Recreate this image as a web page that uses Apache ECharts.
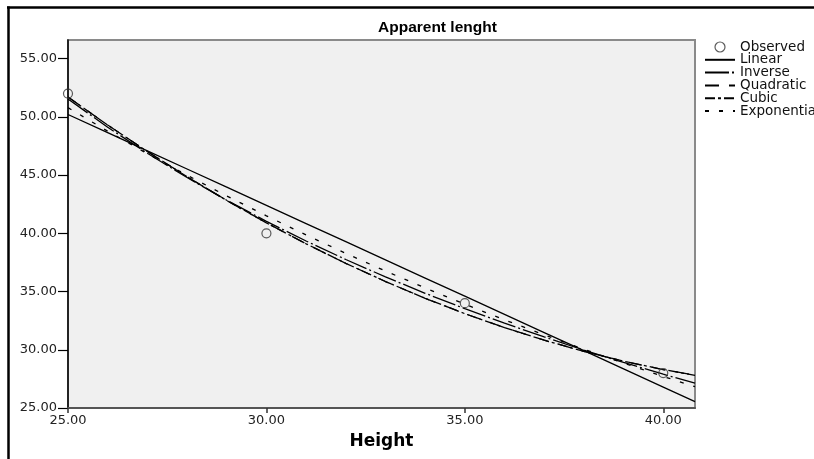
<!DOCTYPE html>
<html><head><meta charset="utf-8">
<script src="https://cdn.jsdelivr.net/npm/echarts@6/dist/echarts.min.js"></script>
<style>html,body{margin:0;padding:0;background:#fff}#c{width:814px;height:459px}</style>
</head><body><div id="c"></div>
<script>
// Observed points
const heights = [25, 30, 35, 40];
const observed = [52, 40, 34, 28];
// Fitted curves read along the Height axis
const curveX = [25, 26, 27, 28, 29, 30, 31, 32, 33, 34, 35, 36, 37, 38, 39, 40, 40.8];
const linear = [50.20, 48.64, 47.08, 45.52, 43.96, 42.40, 40.84, 39.28, 37.72, 36.16, 34.60, 33.04, 31.48, 29.92, 28.36, 26.80, 25.55];
const inverse = [51.54, 49.11, 46.87, 44.79, 42.84, 41.03, 39.34, 37.75, 36.26, 34.85, 33.53, 32.28, 31.10, 29.97, 28.91, 27.90, 27.13];
const quadratic = [51.70, 49.30, 47.02, 44.86, 42.82, 40.90, 39.10, 37.42, 35.86, 34.42, 33.10, 31.90, 30.82, 29.86, 29.02, 28.30, 27.81];
const cubic = [51.70, 49.30, 47.02, 44.86, 42.82, 40.90, 39.10, 37.42, 35.86, 34.42, 33.10, 31.90, 30.82, 29.86, 29.02, 28.30, 27.81];
const exponential = [50.79, 48.77, 46.84, 44.99, 43.21, 41.50, 39.86, 38.28, 36.76, 35.31, 33.91, 32.57, 31.28, 30.04, 28.85, 27.71, 26.83];
const legendNames = ['Observed', 'Linear', 'Inverse', 'Quadratic', 'Cubic', 'Exponential'];
const titleText = 'Apparent lenght';
const xName = 'Height';
const xMin = 25, xMax = 40.8, yMin = 25, yMax = 56.6, tickStep = 5;

const zip = (xs, ys) => xs.map((x, i) => [x, ys[i]]);
const FONT = 'DejaVu Sans';
const fmt = v => (Math.abs(v / tickStep - Math.round(v / tickStep)) < 1e-9) ? v.toFixed(2) : '';

function lineSeries(name, ys, type) {
  return {
    name, type: 'line', data: zip(curveX, ys), symbol: 'none', showSymbol: false,
    lineStyle: { color: '#000', width: 1.3, type },
    itemStyle: { color: '#000' }, silent: true, z: 3
  };
}
const hiddenDot = { color: 'rgba(0,0,0,0)', borderWidth: 0, opacity: 0 };

const chart = echarts.init(document.getElementById('c'), null, { renderer: 'canvas' });
chart.setOption({
  animation: false,
  backgroundColor: '#fff',
  title: {
    text: titleText, left: 378, top: 20, padding: 0,
    textStyle: { fontFamily: 'Liberation Sans', fontWeight: 'bold', fontSize: 15.5, color: '#000' }
  },
  legend: {
    orient: 'vertical', left: 704, top: 40, padding: 0,
    itemWidth: 30, itemHeight: 10, itemGap: -1.2, itemTextGap: 4,
    textStyle: { fontFamily: FONT, fontSize: 13.5, color: '#111' },
    data: [
      { name: legendNames[0], icon: 'circle', itemStyle: { color: 'rgba(0,0,0,0)', borderColor: '#333', borderWidth: 1.2 } },
      { name: legendNames[1], itemStyle: hiddenDot },
      { name: legendNames[2], itemStyle: hiddenDot },
      { name: legendNames[3], itemStyle: hiddenDot },
      { name: legendNames[4], itemStyle: hiddenDot },
      { name: legendNames[5], itemStyle: hiddenDot }
    ]
  },
  grid: {
    left: 68, right: 119, top: 40, bottom: 51, show: true,
    backgroundColor: '#f0f0f0', borderColor: '#8a8a8a', borderWidth: 2
  },
  xAxis: {
    type: 'value', min: xMin, max: xMax, interval: tickStep,
    name: xName, nameLocation: 'middle', nameGap: 25,
    nameTextStyle: { fontFamily: FONT, fontWeight: 'bold', fontSize: 17, color: '#000' },
    axisLine: { show: true, lineStyle: { color: '#555', width: 2 } },
    axisTick: { show: true, length: 5, lineStyle: { color: '#333', width: 1.5 } },
    axisLabel: { formatter: fmt, margin: 6, fontFamily: FONT, fontSize: 13, color: '#222', showMaxLabel: false },
    splitLine: { show: false }
  },
  yAxis: {
    type: 'value', min: yMin, max: yMax, interval: tickStep,
    axisLine: { show: true, lineStyle: { color: '#000', width: 1.5 } },
    axisTick: { show: true, length: 10, lineStyle: { color: '#000', width: 1.2 } },
    axisLabel: { formatter: fmt, margin: 11, fontFamily: FONT, fontSize: 13, color: '#222', showMaxLabel: false },
    splitLine: { show: false }
  },
  series: [
    lineSeries(legendNames[1], linear, 'solid'),
    lineSeries(legendNames[2], inverse, [24, 3, 2, 3]),
    lineSeries(legendNames[3], quadratic, [14, 10]),
    lineSeries(legendNames[4], cubic, [10, 3, 3, 3]),
    lineSeries(legendNames[5], exponential, [4, 10]),
    {
      name: legendNames[0], type: 'scatter', data: zip(heights, observed),
      symbol: 'circle', symbolSize: 9, z: 5,
      itemStyle: { color: 'rgba(0,0,0,0)', borderColor: '#333', borderWidth: 1.2 }
    }
  ],
  graphic: [
    { type: 'line', shape: { x1: 7, y1: 7.5, x2: 814, y2: 7.5 }, style: { stroke: '#000', lineWidth: 2.5 }, silent: true },
    { type: 'line', shape: { x1: 8.5, y1: 6.5, x2: 8.5, y2: 459 }, style: { stroke: '#000', lineWidth: 2.5 }, silent: true }
  ]
});
</script>
</body></html>
